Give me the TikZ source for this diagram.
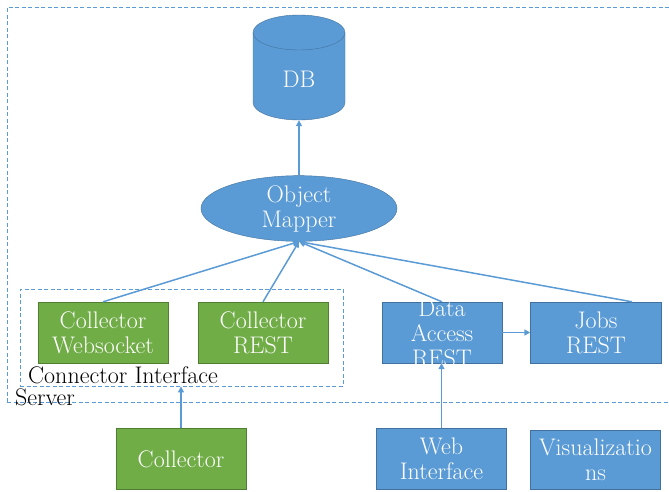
\documentclass[tikz,border=0pt]{standalone}
\usetikzlibrary{shapes.geometric,arrows.meta}
\definecolor{boxblue}{HTML}{5B9BD5}
\definecolor{edgeblue}{HTML}{41719C}
\definecolor{boxgreen}{HTML}{70AD47}
\definecolor{edgegreen}{HTML}{507E32}
\begin{document}
\begin{tikzpicture}[x=1pt,y=-1pt,
    font=\fontsize{24}{25}\selectfont,
    >={Triangle[length=6pt,width=6pt]},
    bluebox/.style={draw=edgeblue,fill=boxblue,text=white,align=center,
        inner sep=0pt,minimum width=#1,minimum height=61pt},
    greenbox/.style={draw=edgegreen,fill=boxgreen,text=white,align=center,
        inner sep=0pt,minimum width=#1,minimum height=61pt},
    frame/.style={draw=boxblue,dash pattern=on 4pt off 2.5pt,line width=0.8pt,
        inner sep=0pt},
    conn/.style={draw=boxblue,line width=1.5pt,->}]
    \useasboundingbox (0,0) rectangle (669,491);
    % Frames
    \node[frame,minimum width=673pt,minimum height=395pt] (server) at (343.5,204.5) {};
    \node[frame,minimum width=323pt,minimum height=97pt] (ci) at (181.5,337.5) {};
    \node[anchor=base west,inner sep=0pt] (serverlabel) at (15,405) {Server};
    \node[anchor=base west,inner sep=0pt] (cilabel) at (28,383.5) {Connector Interface};
    % DB
    \draw[draw=edgeblue,fill=boxblue] (253,32.5) -- (253,102.5)
        arc[start angle=180,end angle=0,x radius=46,y radius=17.5] -- (345,32.5);
    \draw[draw=edgeblue,fill=boxblue] (299,32.5) ellipse[x radius=46,y radius=17.5];
    \node[minimum width=92pt,minimum height=105pt,inner sep=0pt] (db) at (299,67.5) {};
    \node[text=white] (dblabel) at (299,79) {DB};
    % Object mapper
    \node[ellipse,draw=edgeblue,fill=boxblue,text=white,align=center,
        minimum width=196pt,minimum height=51pt,inner sep=0pt] (om) at (299,208.5) {Object\\Mapper};
    % Connectors
    \node[greenbox=130pt] (cw) at (103,332.5) {Collector\\Websocket};
    \node[greenbox=130pt] (cr) at (263,332.5) {Collector\\REST};
    % REST services
    \node[bluebox=120pt] (dar) at (442,332.5) {};
    \node[text=white,align=center,inner sep=0pt] (darlabel) at (442,333) {Data\\Access\\REST};
    \node[bluebox=131pt] (jobs) at (596,332.5) {Jobs\\REST};
    % Clients
    \node[greenbox=130pt] (col) at (181,459) {Collector};
    \node[bluebox=130pt] (web) at (441.5,459) {Web\\Interface};
    \node[bluebox=130pt,minimum height=59pt] (vis) at (595.5,460) {Visualizatio\\ns};
    % Arrows
    \draw[conn] (om.north) -- (db.south);
    \draw[conn] (cw.north) -- (om.south);
    \draw[conn] (cr.north) -- (om.south);
    \draw[conn] (dar.north) -- (om.south);
    \draw[conn] ([xshift=36pt]jobs.north) -- (om.south);
    \draw[conn] (dar.east) -- (jobs.west);
    \draw[conn] (web.north) -- (web.north |- dar.south);
    \draw[conn] (col.north) -- (col.north |- ci.south);
\end{tikzpicture}
\end{document}
